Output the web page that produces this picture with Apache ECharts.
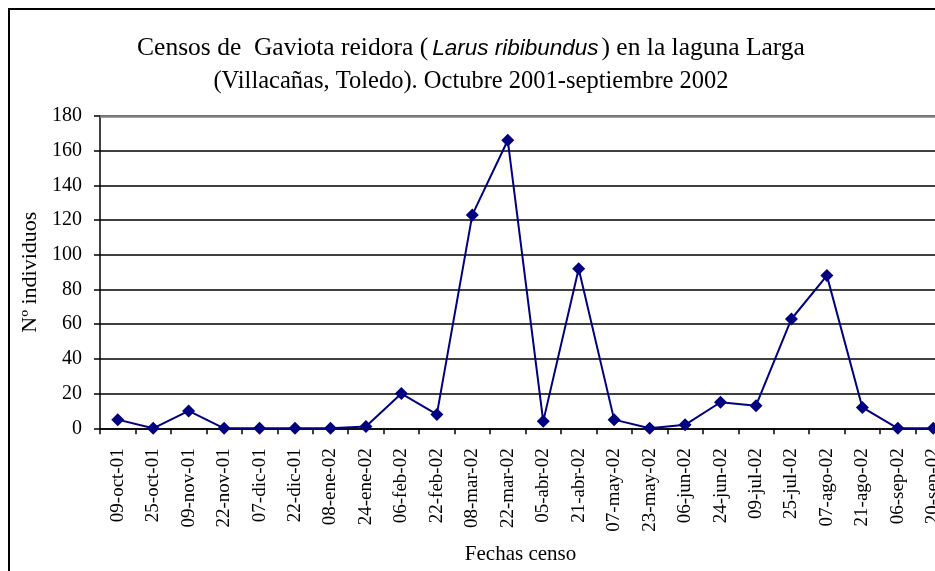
<!DOCTYPE html>
<html>
<head>
<meta charset="utf-8">
<script src="https://cdn.jsdelivr.net/npm/echarts@6/dist/echarts.min.js"></script>
<style>html,body{margin:0;padding:0;background:#fff;overflow:hidden}#c{width:951px;height:571px}</style>
</head>
<body>
<div id="c"></div>
<script>
const categories = ['09-oct-01','25-oct-01','09-nov-01','22-nov-01','07-dic-01','22-dic-01','08-ene-02','24-ene-02','06-feb-02','22-feb-02','08-mar-02','22-mar-02','05-abr-02','21-abr-02','07-may-02','23-may-02','06-jun-02','24-jun-02','09-jul-02','25-jul-02','07-ago-02','21-ago-02','06-sep-02','20-sep-02'];
const individuos = [5,0,10,0,0,0,0,1,20,8,123,166,4,92,5,0,2,15,13,63,88,12,0,0];
const yTicks = {min:0, max:180, interval:20};

const serif = '"Liberation Serif","Times New Roman",serif';
const chart = echarts.init(document.getElementById('c'), null, {renderer:'canvas'});
chart.setOption({
  backgroundColor:'#fff',
  animation:false,
  title:{
    left:466, top:27, textAlign:'center',
    text:'{a|Censos de  Gaviota reidora (}{b|Larus ribibundus}{a|) en la laguna Larga}\n{c|(Villacañas, Toledo). Octubre 2001-septiembre 2002}',
    textStyle:{
      fontFamily:serif, fontSize:24, fontWeight:'normal', color:'#000', lineHeight:33,
      rich:{
        a:{fontFamily:serif, fontSize:25.5, color:'#000', lineHeight:33},
        b:{fontFamily:'"Liberation Sans",Arial,sans-serif', fontStyle:'italic', fontSize:22.5, color:'#000', lineHeight:33, padding:[0,3,0,4]},
        c:{fontFamily:serif, fontSize:24.5, color:'#000', lineHeight:33}
      }
    }
  },
  graphic:[{type:'rect', shape:{x:9, y:9, width:1000, height:1000}, style:{fill:null, stroke:'#000', lineWidth:2}, silent:true, z:100}],
  grid:{left:100, top:116, bottom:142.7, right:0, containLabel:false},
  xAxis:{
    type:'category', data:categories, boundaryGap:true,
    name:'Fechas censo', nameLocation:'middle', nameGap:116,
    nameTextStyle:{fontFamily:serif, fontSize:21, color:'#000', padding:[0,10,0,0]},
    axisLine:{lineStyle:{color:'#000', width:1.5}},
    axisTick:{show:true, alignWithLabel:false, length:6, lineStyle:{color:'#000', width:1.5}},
    axisLabel:{rotate:90, interval:0, margin:20, fontFamily:serif, fontSize:19, color:'#000'},
    splitLine:{show:false}
  },
  yAxis:{
    type:'value', min:yTicks.min, max:yTicks.max, interval:yTicks.interval,
    name:'Nº individuos', nameLocation:'middle', nameGap:58, nameRotate:90,
    nameTextStyle:{fontFamily:serif, fontSize:22, color:'#000'},
    axisLine:{show:true, lineStyle:{color:'#000', width:1.5}},
    axisTick:{show:true, inside:false, length:6, lineStyle:{color:'#000', width:1.5}},
    axisLabel:{margin:18, fontFamily:serif, fontSize:20, color:'#000'},
    splitLine:{show:true, lineStyle:{color:'#000', width:1.5}}
  },
  series:[{
    type:'line', data:individuos,
    symbol:'diamond', symbolSize:13,
    lineStyle:{color:'#000080', width:2},
    itemStyle:{color:'#000080'},
    clip:false,
    markLine:{silent:true, symbol:'none', label:{show:false}, animation:false,
      lineStyle:{color:'#808080', width:2.5, type:'solid'},
      data:[{yAxis:yTicks.max}]}
  }]
});
</script>
</body>
</html>
